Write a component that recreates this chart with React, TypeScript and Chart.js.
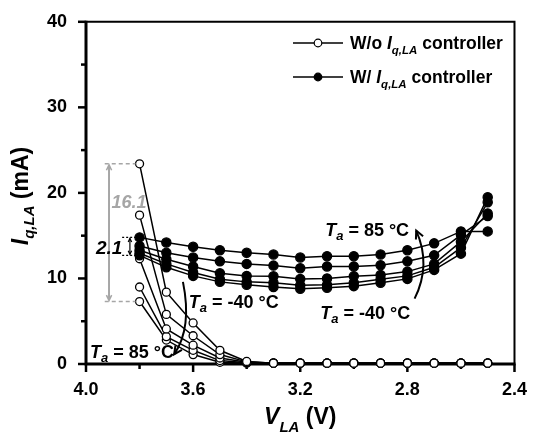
import React, { useEffect, useRef } from 'react';
import { Chart, registerables } from 'chart.js';

Chart.register(...registerables);

// ---- data ----
const voltages = [3.8, 3.7, 3.6, 3.5, 3.4, 3.3, 3.2, 3.1, 3.0, 2.9, 2.8, 2.7, 2.6, 2.5];

// With Iq,LA controller (filled markers)
const withCtrl1 = [14.8, 14.2, 13.7, 13.3, 13.0, 12.8, 12.45, 12.6, 12.6, 12.8, 13.3, 14.1, 15.5, 15.5];
const withCtrl2 = [13.8, 13.0, 12.45, 12.0, 11.7, 11.5, 11.2, 11.4, 11.4, 11.55, 12.0, 12.7, 15.1, 17.3];
const withCtrl3 = [13.3, 12.25, 11.4, 10.6, 10.3, 10.25, 9.95, 10.0, 10.25, 10.4, 10.8, 11.7, 14.3, 17.6];
const withCtrl4 = [12.95, 11.7, 10.7, 9.9, 9.6, 9.5, 9.2, 9.25, 9.5, 9.9, 10.3, 11.3, 13.6, 18.9];
const withCtrl5 = [12.7, 11.3, 10.3, 9.6, 9.25, 9.0, 8.8, 8.9, 9.1, 9.5, 9.95, 11.0, 12.9, 19.5];

// Without Iq,LA controller (open markers)
const noCtrl1 = [23.4, 8.4, 4.8, 1.6, 0.3, 0.1, 0.1, 0.1, 0.1, 0.1, 0.1, 0.1, 0.1, 0.1];
const noCtrl2 = [17.4, 5.8, 3.3, 1.1, 0.25, 0.1, 0.1, 0.1, 0.1, 0.1, 0.1, 0.1, 0.1, 0.1];
const noCtrl3 = [12.3, 4.1, 2.2, 0.7, 0.2, 0.1, 0.1, 0.1, 0.1, 0.1, 0.1, 0.1, 0.1, 0.1];
const noCtrl4 = [9.0, 3.2, 1.6, 0.4, 0.15, 0.1, 0.1, 0.1, 0.1, 0.1, 0.1, 0.1, 0.1, 0.1];
const noCtrl5 = [7.3, 2.8, 1.1, 0.2, 0.1, 0.1, 0.1, 0.1, 0.1, 0.1, 0.1, 0.1, 0.1, 0.1];

const withSeries = [withCtrl1, withCtrl2, withCtrl3, withCtrl4, withCtrl5];
const noSeries = [noCtrl1, noCtrl2, noCtrl3, noCtrl4, noCtrl5];

// ticks
const xMajorTicks = [4.0, 3.6, 3.2, 2.8, 2.4];
const xMinorTicks = [3.8, 3.4, 3.0, 2.6];
const yMajorTicks = [0, 10, 20, 30, 40];
const yMinorTicks = [5, 15, 25, 35];

// annotation values
const spreadNoCtrl = '16.1';
const spreadWithCtrl = '2.1';

const FONT = '"Liberation Sans", Arial, Helvetica, sans-serif';

type Seg = { t: string; size: number; italic?: boolean; dy?: number };

function drawRich(ctx: CanvasRenderingContext2D, segs: Seg[], x: number, y: number, color = '#000', align: 'left' | 'right' | 'center' = 'left') {
  ctx.save();
  ctx.fillStyle = color;
  ctx.textBaseline = 'alphabetic';
  ctx.textAlign = 'left';
  let total = 0;
  const widths = segs.map((s) => {
    ctx.font = `${s.italic ? 'italic ' : ''}bold ${s.size}px ${FONT}`;
    const w = ctx.measureText(s.t).width;
    total += w;
    return w;
  });
  let cx = x;
  if (align === 'right') cx = x - total;
  if (align === 'center') cx = x - total / 2;
  segs.forEach((s, i) => {
    ctx.font = `${s.italic ? 'italic ' : ''}bold ${s.size}px ${FONT}`;
    ctx.fillText(s.t, cx, y + (s.dy || 0));
    cx += widths[i];
  });
  ctx.restore();
  return total;
}

function taLabel(temp: string): Seg[] {
  return [
    { t: 'T', size: 18, italic: true },
    { t: 'a', size: 13, italic: true, dy: 4 },
    { t: ` = ${temp} °C`, size: 18 },
  ];
}

function headLines(ctx: CanvasRenderingContext2D, tx: number, ty: number, ang: number, size: number) {
  ctx.beginPath();
  ctx.moveTo(tx - size * Math.cos(ang - 0.45), ty - size * Math.sin(ang - 0.45));
  ctx.lineTo(tx, ty);
  ctx.lineTo(tx - size * Math.cos(ang + 0.45), ty - size * Math.sin(ang + 0.45));
  ctx.stroke();
}

const framePlugin = {
  id: 'frame',
  beforeDatasetsDraw(chart: any) {
    const ctx: CanvasRenderingContext2D = chart.ctx;
    const { left, right, top, bottom } = chart.chartArea;
    const xs = chart.scales.x;
    const ys = chart.scales.y;
    ctx.save();
    ctx.strokeStyle = '#000';
    ctx.lineWidth = 2;
    ctx.beginPath();
    ctx.moveTo(left, top);
    ctx.lineTo(right, top);
    ctx.lineTo(right, bottom);
    ctx.stroke();
    ctx.lineWidth = 3;
    ctx.beginPath();
    ctx.moveTo(left, top - 1);
    ctx.lineTo(left, bottom);
    ctx.lineTo(right + 1, bottom);
    ctx.stroke();
    ctx.lineWidth = 2.5;
    yMajorTicks.forEach((v) => {
      const p = ys.getPixelForValue(v);
      ctx.beginPath(); ctx.moveTo(left - 8, p); ctx.lineTo(left, p); ctx.stroke();
    });
    yMinorTicks.forEach((v) => {
      const p = ys.getPixelForValue(v);
      ctx.beginPath(); ctx.moveTo(left - 5, p); ctx.lineTo(left, p); ctx.stroke();
    });
    xMajorTicks.forEach((v) => {
      const p = xs.getPixelForValue(v);
      ctx.beginPath(); ctx.moveTo(p, bottom); ctx.lineTo(p, bottom + 8); ctx.stroke();
    });
    xMinorTicks.forEach((v) => {
      const p = xs.getPixelForValue(v);
      ctx.beginPath(); ctx.moveTo(p, bottom); ctx.lineTo(p, bottom + 5); ctx.stroke();
    });
    ctx.restore();
  },
  afterDraw(chart: any) {
    const ctx: CanvasRenderingContext2D = chart.ctx;
    const { left, right } = chart.chartArea;
    const xs = chart.scales.x;
    const ys = chart.scales.y;
    const px = (v: number) => xs.getPixelForValue(v);
    const py = (v: number) => ys.getPixelForValue(v);

    // Axis titles
    const xTitle: Seg[] = [
      { t: 'V', size: 23, italic: true },
      { t: 'LA', size: 15, italic: true, dy: 8 },
      { t: ' (V)', size: 23 },
    ];
    drawRich(ctx, xTitle, (left + right) / 2, 424, '#000', 'center');

    ctx.save();
    ctx.translate(28, 196);
    ctx.rotate(-Math.PI / 2);
    const yTitle: Seg[] = [
      { t: 'I', size: 23, italic: true },
      { t: 'q,LA', size: 15, italic: true, dy: 6 },
      { t: ' (mA)', size: 23 },
    ];
    drawRich(ctx, yTitle, 0, 0, '#000', 'center');
    ctx.restore();

    // Spread annotation (gray) for no-controller
    const gx0 = px(3.93), gx1 = px(3.8);
    const gTop = py(noCtrl1[0]), gBot = py(noCtrl5[0]);
    ctx.save();
    ctx.strokeStyle = '#a6a6a6';
    ctx.lineWidth = 1.5;
    ctx.setLineDash([4, 3]);
    ctx.beginPath();
    ctx.moveTo(gx0, gTop); ctx.lineTo(gx1 - 4, gTop);
    ctx.moveTo(gx0, gBot); ctx.lineTo(gx1 - 4, gBot);
    ctx.stroke();
    ctx.setLineDash([]);
    const ga = px(3.914);
    ctx.lineWidth = 2;
    ctx.beginPath(); ctx.moveTo(ga, gTop + 2); ctx.lineTo(ga, gBot - 2); ctx.stroke();
    ctx.lineWidth = 1.5;
    headLines(ctx, ga, gTop + 1, -Math.PI / 2, 6);
    headLines(ctx, ga, gBot - 1, Math.PI / 2, 6);
    ctx.restore();
    drawRich(ctx, [{ t: spreadNoCtrl, size: 18, italic: true }], px(3.905), py(18.2), '#a6a6a6');

    // Spread annotation (black) for with-controller
    const bx0 = px(3.865), bx1 = px(3.8);
    const bTop = py(withCtrl1[0]), bBot = py(withCtrl5[0]);
    ctx.save();
    ctx.strokeStyle = '#000';
    ctx.lineWidth = 1.2;
    ctx.setLineDash([2, 2]);
    ctx.beginPath();
    ctx.moveTo(bx0, bTop); ctx.lineTo(bx1 - 4, bTop);
    ctx.moveTo(bx0, bBot); ctx.lineTo(bx1 - 4, bBot);
    ctx.stroke();
    ctx.setLineDash([]);
    const ba = px(3.836);
    ctx.beginPath(); ctx.moveTo(ba, bTop + 1); ctx.lineTo(ba, bBot - 1); ctx.stroke();
    headLines(ctx, ba, bTop + 1, -Math.PI / 2, 4);
    headLines(ctx, ba, bBot - 1, Math.PI / 2, 4);
    ctx.restore();
    drawRich(ctx, [{ t: spreadWithCtrl, size: 19, italic: true }], px(3.864), py(12.9), '#000', 'right');

    // Temperature labels
    drawRich(ctx, taLabel('85'), px(3.985), py(0.7));
    drawRich(ctx, taLabel('-40'), px(3.616), py(6.6));
    drawRich(ctx, taLabel('85'), px(3.107), py(15.0));
    drawRich(ctx, taLabel('-40'), px(3.125), py(5.3));

    // Curved arrows
    ctx.save();
    ctx.strokeStyle = '#000';
    ctx.lineWidth = 2;
    const curve = (s: number[], c: number[], e: number[]) => {
      const sx = px(s[0]), sy = py(s[1]);
      const cx = px(c[0]), cy = py(c[1]);
      const ex = px(e[0]), ey = py(e[1]);
      ctx.beginPath(); ctx.moveTo(sx, sy); ctx.quadraticCurveTo(cx, cy, ex, ey); ctx.stroke();
      const ang = Math.atan2(ey - cy, ex - cx);
      headLines(ctx, ex, ey, ang, 9);
    };
    curve([3.638, 9.6], [3.603, 4.2], [3.671, 1.12]);
    curve([2.773, 7.64], [2.71, 11.6], [2.767, 15.6]);
    ctx.restore();

    // Legend
    const legendRows = [
      { y: 43, fill: '#fff', label: 'W/o ' },
      { y: 77, fill: '#000', label: 'W/ ' },
    ];
    legendRows.forEach((r) => {
      ctx.save();
      ctx.strokeStyle = '#000';
      ctx.lineWidth = 1.5;
      ctx.beginPath(); ctx.moveTo(293, r.y); ctx.lineTo(343, r.y); ctx.stroke();
      ctx.beginPath(); ctx.arc(318, r.y, 3.8, 0, Math.PI * 2);
      ctx.fillStyle = r.fill; ctx.fill(); ctx.lineWidth = 1.2; ctx.stroke();
      ctx.restore();
      drawRich(ctx, [
        { t: r.label, size: 17.5 },
        { t: 'I', size: 17.5, italic: true },
        { t: 'q,LA', size: 11.5, italic: true, dy: 5 },
        { t: ' controller', size: 17.5 },
      ], 350, r.y + 6);
    });
  },
};

export default function App() {
  const ref = useRef<HTMLCanvasElement | null>(null);
  useEffect(() => {
    if (!ref.current) return;
    const mk = (data: number[], filled: boolean) => ({
      data: voltages.map((v, i) => ({ x: v, y: data[i] })),
      borderColor: '#000',
      borderWidth: 1.5,
      pointRadius: filled ? 4.6 : 4,
      pointBackgroundColor: filled ? '#000' : '#fff',
      pointBorderColor: '#000',
      pointBorderWidth: 1.3,
      tension: 0,
      fill: false,
      clip: false as any,
    });
    const datasets = [
      ...withSeries.map((d) => mk(d, true)),
      ...noSeries.map((d) => mk(d, false)),
    ];
    const chart = new Chart(ref.current, {
      type: 'line',
      data: { datasets },
      plugins: [framePlugin],
      options: {
        animation: false,
        responsive: false,
        devicePixelRatio: 1,
        layout: { padding: { top: 16, right: 15, left: 0, bottom: 0 } },
        plugins: { legend: { display: false }, tooltip: { enabled: false } },
        scales: {
          x: {
            type: 'linear',
            reverse: true,
            min: 2.4,
            max: 4.0,
            afterFit: (s: any) => { s.height = 75; },
            afterBuildTicks: (s: any) => { s.ticks = xMajorTicks.map((v) => ({ value: v })); },
            ticks: {
              callback: (v: any) => Number(v).toFixed(1),
              font: { family: FONT, weight: 'bold', size: 18 },
              color: '#000',
              padding: 7,
              maxRotation: 0,
              autoSkip: false,
            },
            grid: { display: false },
            border: { display: false },
          },
          y: {
            type: 'linear',
            min: 0,
            max: 40,
            afterFit: (s: any) => { s.width = 86; },
            afterBuildTicks: (s: any) => { s.ticks = yMajorTicks.map((v) => ({ value: v })); },
            ticks: {
              callback: (v: any) => String(v),
              font: { family: FONT, weight: 'bold', size: 18 },
              color: '#000',
              padding: 11,
            },
            grid: { display: false },
            border: { display: false },
          },
        },
      } as any,
    });
    return () => chart.destroy();
  }, []);
  return (
    <div style={{ position: 'absolute', left: 0, top: 0, width: 534, height: 439, background: '#fff' }}>
      <canvas ref={ref} width={534} height={439} style={{ display: 'block' }} />
    </div>
  );
}
